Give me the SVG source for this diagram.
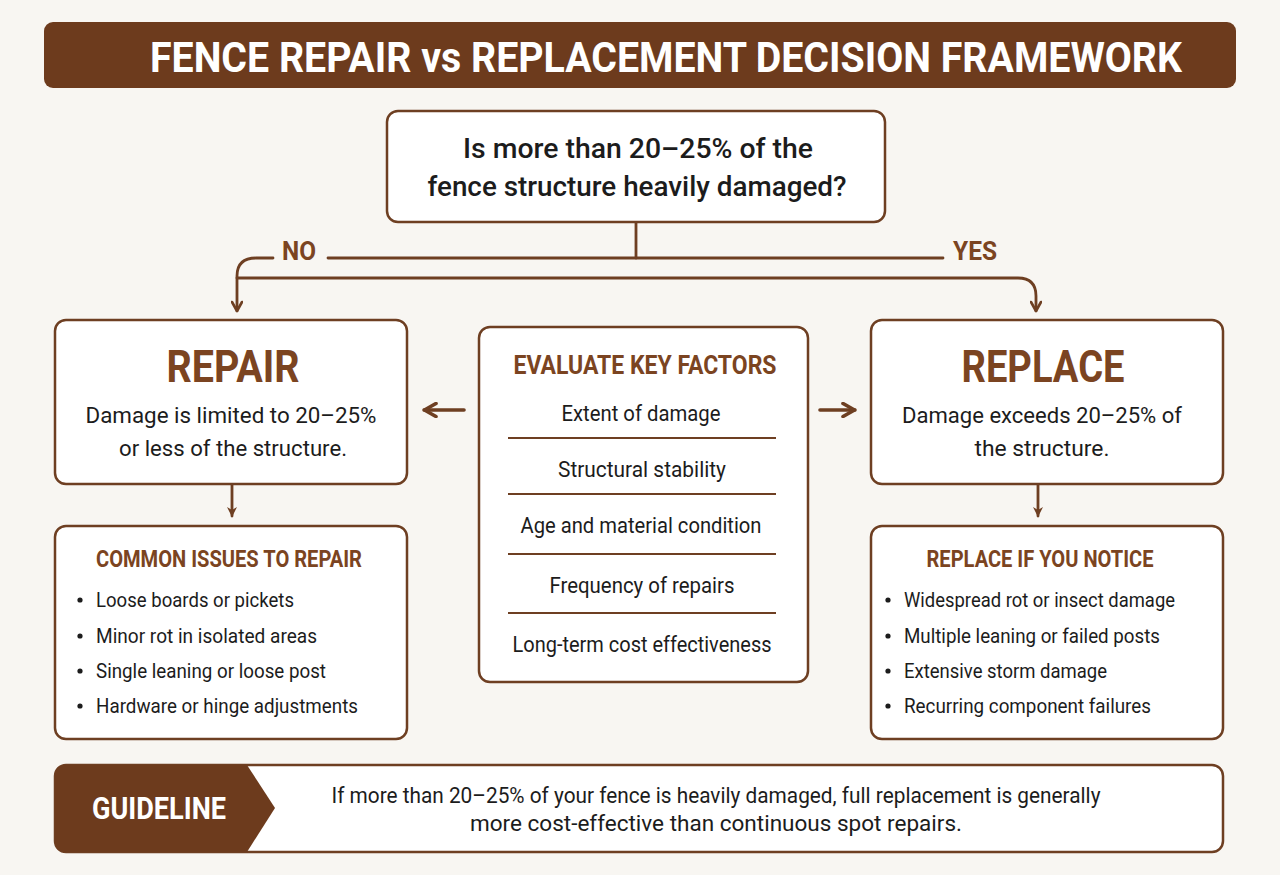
<svg xmlns="http://www.w3.org/2000/svg" width="1280" height="875" viewBox="0 0 1280 875">
<defs>
<style>
text{font-family:Roboto,"Liberation Sans",sans-serif}
.box{fill:#ffffff;stroke:#6e3f22;stroke-width:2.5}
.ln{fill:none;stroke:#6e3f22;stroke-width:2.8;stroke-linecap:round;stroke-linejoin:round}
.thk{stroke-width:3.6}
.hd{fill:#7b4421;font-weight:700;text-anchor:middle}
.bd{fill:#1c1c1c;font-weight:400}
.c{text-anchor:middle}
.q{fill:#1c1c1c;font-weight:500;font-size:27px;text-anchor:middle}
.sep{stroke:#6e3f22;stroke-width:1.8}
.dot{fill:#1c1c1c}
</style>
<marker id="ah" viewBox="0 0 12 12" refX="11" refY="6" markerWidth="12" markerHeight="12" markerUnits="userSpaceOnUse" orient="auto">
<path d="M2 1 L11 6 L2 11" fill="none" stroke="#6e3f22" stroke-width="2.6" stroke-linecap="round" stroke-linejoin="round"/>
</marker>
<marker id="ahb" viewBox="0 0 16 16" refX="15" refY="8" markerWidth="16" markerHeight="16" markerUnits="userSpaceOnUse" orient="auto">
<path d="M3 1.5 L14.5 8 L3 14.5" fill="none" stroke="#6e3f22" stroke-width="3.6" stroke-linecap="round" stroke-linejoin="round"/>
</marker>
<marker id="ahs" viewBox="0 0 12 12" refX="10" refY="6" markerWidth="12" markerHeight="12" markerUnits="userSpaceOnUse" orient="auto">
<path d="M1 1 L11 6 L1 11 L4 6 Z" fill="#6e3f22"/>
</marker>
</defs>
<rect width="1280" height="875" fill="#f8f6f2"/>

<g id="title">
<rect x="44" y="22" width="1192" height="66" rx="9" fill="#6d3b1d"/>
<text x="666" y="72" font-size="42" font-weight="700" fill="#ffffff" text-anchor="middle" textLength="1032" lengthAdjust="spacingAndGlyphs">FENCE REPAIR vs REPLACEMENT DECISION FRAMEWORK</text>
</g>

<g id="connectors">
<path class="ln" d="M636 222 V258"/>
<path class="ln" d="M328 258 H943"/>
<path class="ln" d="M273 258 H256 Q237 258 237 276 V311" marker-end="url(#ah)"/>
<path class="ln" d="M237 278 H1018 Q1036 278 1036 296 V311" marker-end="url(#ah)"/>
<path class="ln" d="M232 485 V516" marker-end="url(#ahs)"/>
<path class="ln" d="M1038 485 V516" marker-end="url(#ahs)"/>
<path class="ln thk" d="M464 410 H424" marker-end="url(#ahb)"/>
<path class="ln thk" d="M820 410 H855" marker-end="url(#ahb)"/>
<text x="299" y="260" class="hd" font-size="26" textLength="34" lengthAdjust="spacingAndGlyphs">NO</text>
<text x="975" y="260" class="hd" font-size="26" textLength="44" lengthAdjust="spacingAndGlyphs">YES</text>
</g>

<g id="question">
<rect class="box" x="387" y="111" width="498" height="111" rx="11"/>
<text x="638" y="158" class="q" textLength="350" lengthAdjust="spacingAndGlyphs">Is more than 20–25% of the</text>
<text x="637" y="196" class="q" textLength="419" lengthAdjust="spacingAndGlyphs">fence structure heavily damaged?</text>
</g>

<g id="repair">
<rect class="box" x="55" y="320" width="352" height="164" rx="11"/>
<text x="233" y="382" class="hd" font-size="44" textLength="133" lengthAdjust="spacingAndGlyphs">REPAIR</text>
<text x="231" y="423" class="bd c" font-size="22" textLength="291" lengthAdjust="spacingAndGlyphs">Damage is limited to 20–25%</text>
<text x="233" y="456" class="bd c" font-size="22" textLength="228" lengthAdjust="spacingAndGlyphs">or less of the structure.</text>
</g>

<g id="factors">
<rect class="box" x="479" y="327" width="329" height="355" rx="11"/>
<text x="645" y="374" class="hd" font-size="25" textLength="263" lengthAdjust="spacingAndGlyphs">EVALUATE KEY FACTORS</text>
<text x="641" y="421" class="bd c" font-size="22" textLength="159" lengthAdjust="spacingAndGlyphs">Extent of damage</text>
<line class="sep" x1="508" y1="438" x2="776" y2="438"/>
<text x="642" y="477" class="bd c" font-size="22" textLength="168" lengthAdjust="spacingAndGlyphs">Structural stability</text>
<line class="sep" x1="508" y1="494" x2="776" y2="494"/>
<text x="641" y="533" class="bd c" font-size="22" textLength="241" lengthAdjust="spacingAndGlyphs">Age and material condition</text>
<line class="sep" x1="508" y1="554" x2="776" y2="554"/>
<text x="642" y="593" class="bd c" font-size="22" textLength="185" lengthAdjust="spacingAndGlyphs">Frequency of repairs</text>
<line class="sep" x1="508" y1="613" x2="776" y2="613"/>
<text x="642" y="652" class="bd c" font-size="22" textLength="259" lengthAdjust="spacingAndGlyphs">Long-term cost effectiveness</text>
</g>

<g id="replace">
<rect class="box" x="871" y="320" width="352" height="164" rx="11"/>
<text x="1043" y="382" class="hd" font-size="44" textLength="163" lengthAdjust="spacingAndGlyphs">REPLACE</text>
<text x="1042" y="423" class="bd c" font-size="22" textLength="280" lengthAdjust="spacingAndGlyphs">Damage exceeds 20–25% of</text>
<text x="1042" y="456" class="bd c" font-size="22" textLength="135" lengthAdjust="spacingAndGlyphs">the structure.</text>
</g>

<g id="repair-issues">
<rect class="box" x="55" y="526" width="352" height="213" rx="11"/>
<text x="229" y="567" class="hd" font-size="23" textLength="266" lengthAdjust="spacingAndGlyphs">COMMON ISSUES TO REPAIR</text>
<circle class="dot" cx="80" cy="600" r="2.6"/>
<text x="96" y="607" class="bd" font-size="21" textLength="198" lengthAdjust="spacingAndGlyphs">Loose boards or pickets</text>
<circle class="dot" cx="80" cy="636" r="2.6"/>
<text x="96" y="643" class="bd" font-size="21" textLength="221" lengthAdjust="spacingAndGlyphs">Minor rot in isolated areas</text>
<circle class="dot" cx="80" cy="671" r="2.6"/>
<text x="96" y="678" class="bd" font-size="21" textLength="230" lengthAdjust="spacingAndGlyphs">Single leaning or loose post</text>
<circle class="dot" cx="80" cy="706" r="2.6"/>
<text x="96" y="713" class="bd" font-size="21" textLength="262" lengthAdjust="spacingAndGlyphs">Hardware or hinge adjustments</text>
</g>

<g id="replace-signs">
<rect class="box" x="871" y="526" width="352" height="213" rx="11"/>
<text x="1040" y="567" class="hd" font-size="23" textLength="227" lengthAdjust="spacingAndGlyphs">REPLACE IF YOU NOTICE</text>
<circle class="dot" cx="888" cy="600" r="2.6"/>
<text x="904" y="607" class="bd" font-size="21" textLength="271" lengthAdjust="spacingAndGlyphs">Widespread rot or insect damage</text>
<circle class="dot" cx="888" cy="636" r="2.6"/>
<text x="904" y="643" class="bd" font-size="21" textLength="256" lengthAdjust="spacingAndGlyphs">Multiple leaning or failed posts</text>
<circle class="dot" cx="888" cy="671" r="2.6"/>
<text x="904" y="678" class="bd" font-size="21" textLength="203" lengthAdjust="spacingAndGlyphs">Extensive storm damage</text>
<circle class="dot" cx="888" cy="706" r="2.6"/>
<text x="904" y="713" class="bd" font-size="21" textLength="247" lengthAdjust="spacingAndGlyphs">Recurring component failures</text>
</g>

<g id="guideline">
<rect class="box" x="55" y="765" width="1168" height="87" rx="11"/>
<path d="M66 765 H247 L275 808 L247 852 H66 Q55 852 55 841 V776 Q55 765 66 765 Z" fill="#6d3b1d"/>
<text x="159" y="819" font-size="31" font-weight="700" fill="#ffffff" text-anchor="middle" textLength="134" lengthAdjust="spacingAndGlyphs">GUIDELINE</text>
<text x="716" y="803" class="bd c" font-size="22" textLength="769" lengthAdjust="spacingAndGlyphs">If more than 20–25% of your fence is heavily damaged, full replacement is generally</text>
<text x="716" y="831" class="bd c" font-size="22" textLength="492" lengthAdjust="spacingAndGlyphs">more cost-effective than continuous spot repairs.</text>
</g>
</svg>
